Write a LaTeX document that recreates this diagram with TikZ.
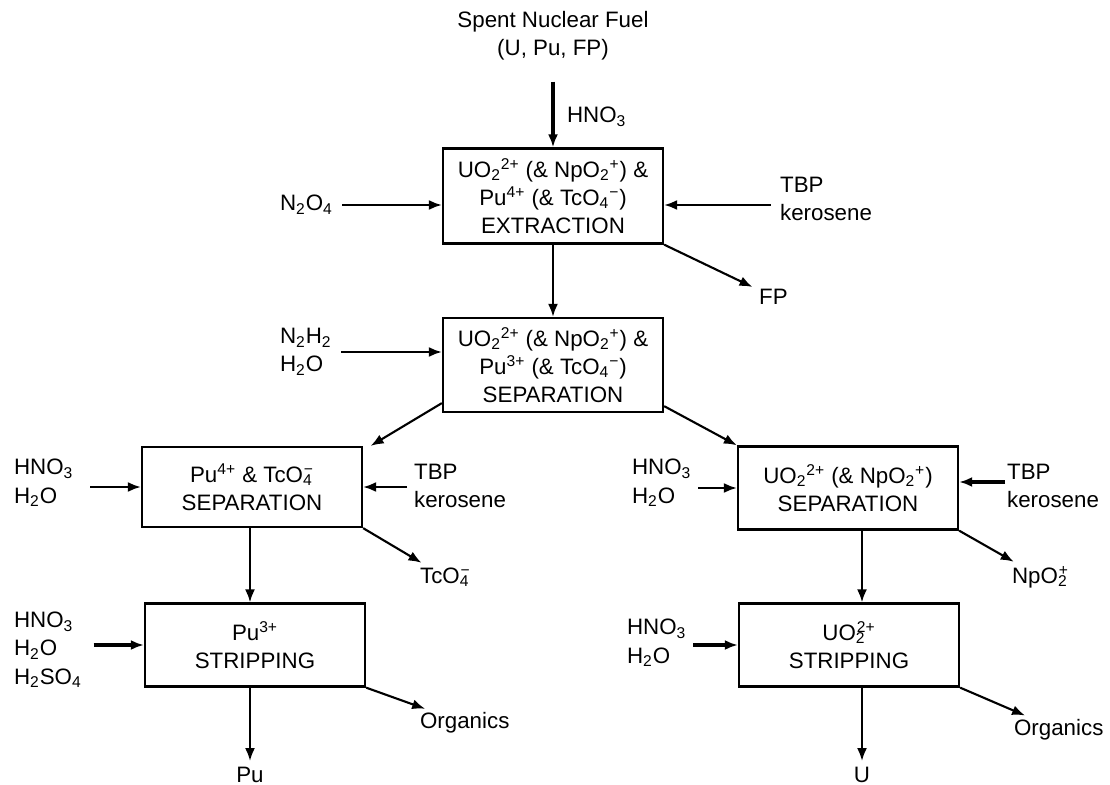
\documentclass[tikz,border=0pt]{standalone}
\usepackage{fontspec}
\setmainfont{Liberation Sans}
\usetikzlibrary{positioning}
\usetikzlibrary{calc,arrows.meta}
\newcommand{\sub}[1]{\textsubscript{#1}}
\newcommand{\sups}[1]{\textsuperscript{#1}}
\newcommand{\ionsub}[2]{\textsubscript{\rlap{#1}}\textsuperscript{#2}}
\tikzset{
	flow/.style = {-{Latex[length=2.6mm,width=2mm]}, line width=1.2pt},
	heavy/.style = {flow, line width=1.9pt},
	stage/.style = {rectangle, draw, line width=1.3pt, minimum width=44mm,
		align=center, inner sep=2pt},
	feed/.style = {align=left, anchor=west, inner sep=1pt},
}
\begin{document}
\begin{tikzpicture}[x=0.2mm,y=-0.2mm,font=\fontsize{12.7}{16}\selectfont]
	\useasboundingbox (0,0) rectangle (1110,785);
	% main line
	\node at(553,36) (Fuel) [align=center] {Spent Nuclear Fuel\\(U, Pu, FP)};
	\node at(553,196) (Extraction) [stage, minimum height=19mm]
		{UO\sub{2}\sups{2+} (\& NpO\sub{2}\sups{+}) \&\\Pu\sups{4+} (\& TcO\sub{4}\sups{−})\\EXTRACTION};
	\node at(565,117) (AcidA) [feed] {HNO\sub{3}};
	\node at(278,205) (Oxide) [feed] {N\sub{2}O\sub{4}};
	\node at(778,199) (SolventA) [feed] {TBP\\kerosene};
	\node at(757,297) (FP) [feed] {FP};
	\node at(553,365) (Partition) [stage, minimum height=18.8mm]
		{UO\sub{2}\sups{2+} (\& NpO\sub{2}\sups{+}) \&\\Pu\sups{3+} (\& TcO\sub{4}\sups{−})\\SEPARATION};
	\node at(278,352) (Reductant) [feed] {N\sub{2}H\sub{2}\\H\sub{2}O};
	% plutonium line
	\node at(252,487) (PuSep) [stage, minimum height=16mm]
		{Pu\sups{4+} \& TcO\ionsub{4}{−}\\SEPARATION};
	\node at(12,483) (AcidB) [feed] {HNO\sub{3}\\H\sub{2}O};
	\node at(412,486) (SolventB) [feed] {TBP\\kerosene};
	\node at(418,577) (Tc) [feed] {TcO\ionsub{4}{−}};
	\node at(255,645) (PuStrip) [stage, minimum height=16.6mm]
		{Pu\sups{3+}\\STRIPPING};
	\node at(12,650) (AcidC) [feed] {HNO\sub{3}\\H\sub{2}O\\H\sub{2}SO\sub{4}};
	\node at(418,723) (OrgA) [feed] {Organics};
	\node at(250,775) (Pu) {Pu};
	% uranium line
	\node at(848,488) (USep) [stage, minimum height=16.6mm]
		{UO\sub{2}\sups{2+} (\& NpO\sub{2}\sups{+})\\SEPARATION};
	\node at(630,483) (AcidD) [feed] {HNO\sub{3}\\H\sub{2}O};
	\node at(1005,486) (SolventD) [feed] {TBP\\kerosene};
	\node at(1010,577) (Np) [feed] {NpO\ionsub{2}{+}};
	\node at(849,645) (UStrip) [stage, minimum height=16.6mm]
		{UO\ionsub{2}{2+}\\STRIPPING};
	\node at(625,643) (AcidE) [feed] {HNO\sub{3}\\H\sub{2}O};
	\node at(1012,730) (OrgB) [feed] {Organics};
	\node at(862,775) (U) {U};

	\draw[heavy, shorten <=3mm] (Fuel) -- (Extraction);
	\draw[flow, shorten <=1.5mm] (Oxide) -- (Oxide -| Extraction.west);
	\draw[flow, shorten <=1.5mm] (SolventA.west |- Oxide) -- (Oxide -| Extraction.east);
	\draw[flow, shorten >=1mm] (Extraction.south east) -- (FP);
	\draw[flow] (Extraction) -- (Partition);
	\draw[flow, shorten <=1.5mm] (Reductant) -- (Reductant -| Partition.west);
	\draw[flow] ([yshift=2mm]Partition.south west) -- ([xshift=1.5mm]PuSep.north east);
	\draw[flow] ([yshift=1.4mm]Partition.south east) -- (USep.north west);

	\draw[flow, shorten <=3mm] (AcidB.east |- PuSep) -- (PuSep.west);
	\draw[flow, shorten <=1mm] (SolventB.west |- PuSep) -- (PuSep.east);
	\draw[flow, shorten >=1mm] (PuSep.south east) -- (Tc);
	\draw[flow] (PuSep.south -| Pu) -- (PuStrip.north -| Pu);
	\draw[heavy, shorten <=2mm] (AcidC.east |- PuStrip) -- (PuStrip.west);
	\draw[flow, shorten >=1mm] (PuStrip.south east) -- (OrgA);
	\draw[flow] (PuStrip.south -| Pu) -- (Pu);

	\draw[flow, shorten <=1mm] (AcidD.east |- USep) -- (USep.west);
	\draw[heavy] ([yshift=1.2mm]SolventD.west |- USep) -- ([yshift=1.2mm]USep.east);
	\draw[flow, shorten >=1mm] (USep.south east) -- (Np);
	\draw[flow] (USep.south -| U) -- (UStrip.north -| U);
	\draw[heavy, shorten <=1mm] (AcidE.east |- UStrip) -- (UStrip.west);
	\draw[flow, shorten >=1mm] (UStrip.south east) -- (OrgB);
	\draw[flow] (UStrip.south -| U) -- (U);
\end{tikzpicture}
\end{document}
